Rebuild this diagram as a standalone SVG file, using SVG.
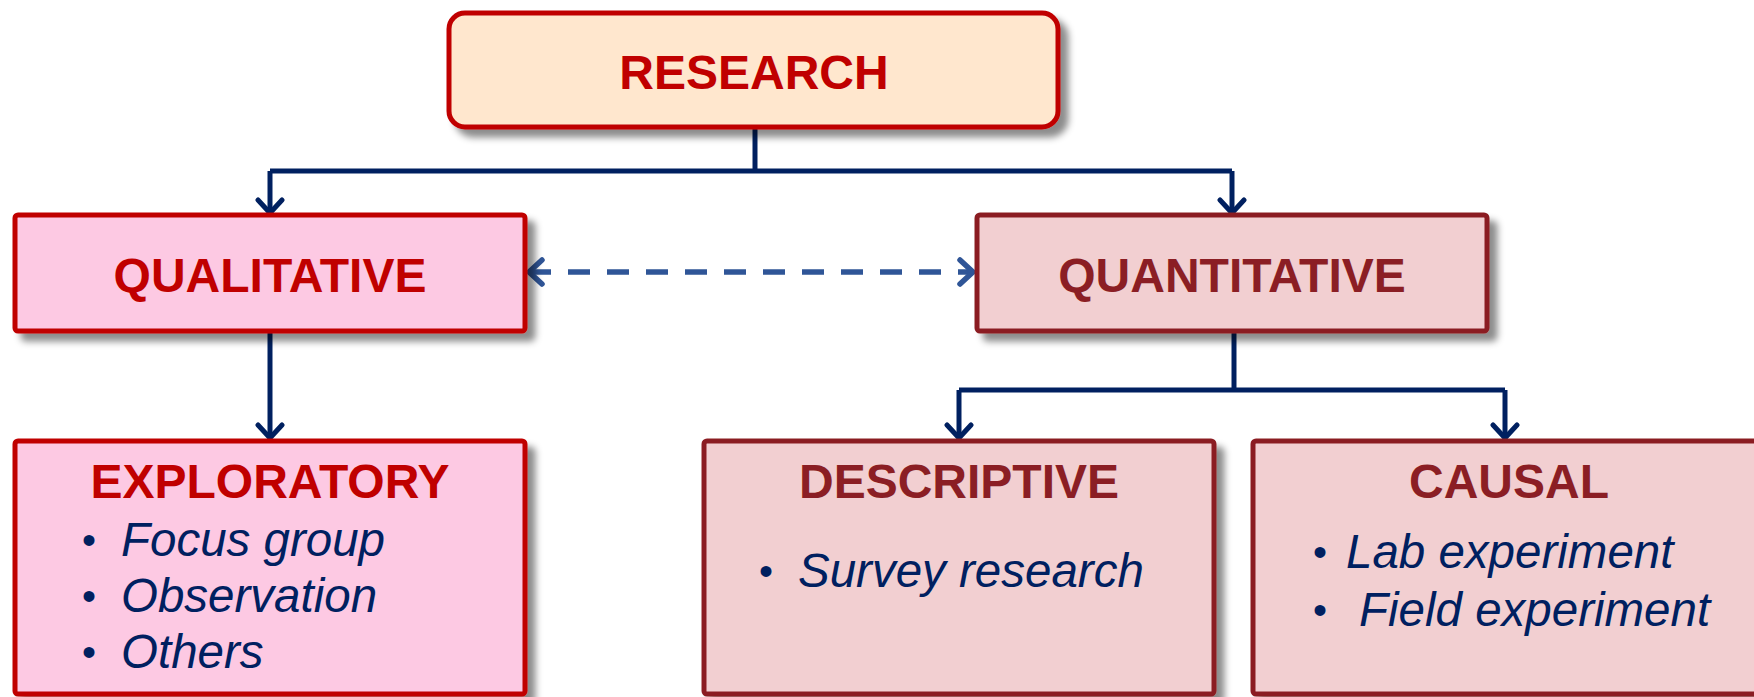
<svg xmlns="http://www.w3.org/2000/svg" width="1754" height="697" viewBox="0 0 1754 697">
<defs>
<filter id="sh" x="-10%" y="-10%" width="130%" height="140%">
<feDropShadow dx="8" dy="8" stdDeviation="3.5" flood-color="#000" flood-opacity="0.45"/>
</filter>
<marker id="ah" viewBox="0 0 30 30" refX="24" refY="15" markerWidth="30" markerHeight="30" markerUnits="userSpaceOnUse" orient="auto">
<path d="M11,3 L24,15 L11,27" fill="none" stroke="#002060" stroke-width="5" stroke-linecap="round" stroke-linejoin="round"/>
</marker>
<marker id="ahb" viewBox="0 0 30 30" refX="24" refY="15" markerWidth="30" markerHeight="30" markerUnits="userSpaceOnUse" orient="auto-start-reverse">
<path d="M11,3 L24,15 L11,27" fill="none" stroke="#2F5597" stroke-width="5.5" stroke-linecap="round" stroke-linejoin="round"/>
</marker>
</defs>
<style>
.box{stroke-width:5;filter:url(#sh)}
.red{fill:#FDC9E3;stroke:#C00000}
.dark{fill:#F2CFD1;stroke:#8B1E24}
.top{fill:#FFE7CE;stroke:#C00000}
.t{font-family:"Liberation Sans",Arial,sans-serif;font-weight:bold;font-size:48px;text-anchor:middle}
.tr{fill:#C00000}
.td{fill:#8B1E24}
.b{font-family:"Liberation Sans",Arial,sans-serif;font-style:italic;font-size:47.5px;fill:#002060}
.dot{font-family:"Liberation Sans",Arial,sans-serif;font-size:40px;fill:#002060;text-anchor:middle}
.c{fill:none;stroke:#002060;stroke-width:5}
.d{fill:none;stroke:#2F5597;stroke-width:5.5;stroke-dasharray:22 17}
</style>
<g id="connectors">
<path class="c" d="M755,129 V171"/>
<path class="c" d="M270,171 H1232"/>
<path class="c" d="M270,171 V213" marker-end="url(#ah)"/>
<path class="c" d="M1232,171 V213" marker-end="url(#ah)"/>
<path class="c" d="M270,332 V438" marker-end="url(#ah)"/>
<path class="c" d="M1234,332 V390"/>
<path class="c" d="M959,390 H1505"/>
<path class="c" d="M959,390 V438" marker-end="url(#ah)"/>
<path class="c" d="M1505,390 V438" marker-end="url(#ah)"/>
<path class="d" d="M529,272 H973" marker-start="url(#ahb)" marker-end="url(#ahb)"/>
</g>
<g id="research">
<rect class="box top" x="449" y="13" width="609" height="114" rx="16"/>
<text class="t tr" x="754" y="89">RESEARCH</text>
</g>
<g id="qualitative">
<rect class="box red" x="15" y="215" width="510" height="116" rx="3"/>
<text class="t tr" x="270" y="292">QUALITATIVE</text>
</g>
<g id="quantitative">
<rect class="box dark" x="977" y="215" width="510" height="116" rx="3"/>
<text class="t td" x="1232" y="292">QUANTITATIVE</text>
</g>
<g id="exploratory">
<rect class="box red" x="15" y="441" width="510" height="253" rx="3"/>
<text class="t tr" x="270" y="498">EXPLORATORY</text>
<text class="dot" x="89" y="554">•</text>
<text class="b" x="121" y="556">Focus group</text>
<text class="dot" x="89" y="610">•</text>
<text class="b" x="121" y="612">Observation</text>
<text class="dot" x="89" y="666">•</text>
<text class="b" x="121" y="668">Others</text>
</g>
<g id="descriptive">
<rect class="box dark" x="704" y="441" width="510" height="253" rx="3"/>
<text class="t td" x="959" y="498">DESCRIPTIVE</text>
<text class="dot" x="766" y="585">•</text>
<text class="b" x="798" y="587">Survey research</text>
</g>
<g id="causal">
<rect class="box dark" x="1253" y="441" width="520" height="253" rx="3"/>
<text class="t td" x="1509" y="498">CAUSAL</text>
<text class="dot" x="1320" y="566">•</text>
<text class="b" x="1346" y="568">Lab experiment</text>
<text class="dot" x="1320" y="624">•</text>
<text class="b" x="1359" y="626">Field experiment</text>
</g>
</svg>
